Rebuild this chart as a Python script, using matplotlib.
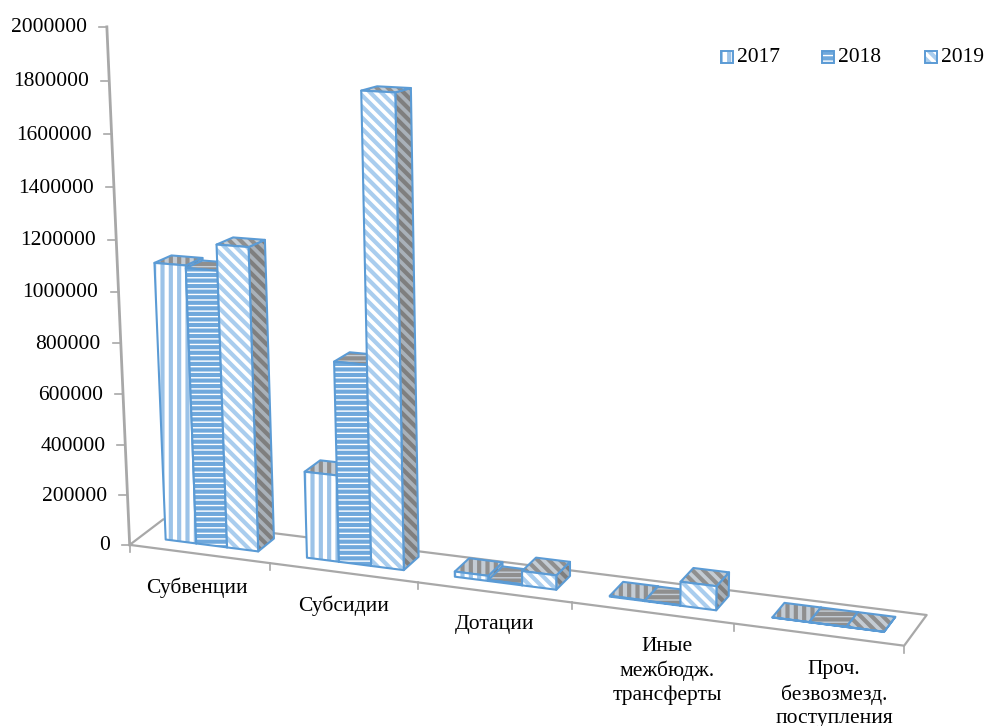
import numpy as np
import matplotlib
matplotlib.use("Agg")
import matplotlib.pyplot as plt
from matplotlib.patches import Polygon, Rectangle

# data
categories = ["Субвенции", "Субсидии", "Дотации",
              "Иные\nмежбюдж.\nтрансферты", "Проч.\nбезвозмезд.\nпоступления"]
years = ["2017", "2018", "2019"]
values_2017 = [1100000, 340000, 20000, 3000, 500]
values_2018 = [1090000, 780000, 4000, 2000, 500]
values_2019 = [1190000, 1800000, 55000, 90000, 500]
y_ticks = [0, 200000, 400000, 600000, 800000, 1000000,
           1200000, 1400000, 1600000, 1800000, 2000000]
y_max = 2000000

BLUE = "#5b9bd5"
HATCHES = ["||", "---", "\\\\\\"]
HATCH_COLORS = ["#9cc3e8", "#6fa8dc", "#a9cdee"]
GRID = "#a8a8a8"
FONT_SIZE = 15.5

plt.rcParams["font.family"] = ["Liberation Serif", "DejaVu Serif"]
plt.rcParams["hatch.linewidth"] = 3.0

# perspective of the floor: (category pos, depth) -> pixel in the picture
floor_calib = [
    ((0, 0), (130, 543)), ((5, 0), (903, 648)),
    ((0, 1), (163, 522)), ((5, 1), (927, 612)),
    ((1, 0), (270, 562)), ((2, 0), (418, 582)), ((4, 0), (735, 625)),
]
axis_height = 518      # pixels of y_max above the origin
top_flare = 0.045      # upper ticks sit a bit further apart
depth_shrink = 0.02    # things further back come out a little shorter
vanish_x, vanish_y = 590, 11000  # where the uprights meet, far below the chart


def solve_floor(pairs):
    rows = []
    for (a, b), (px, py) in pairs:
        px, py = px / 1000, py / 1000
        rows.append([a, b, 1, 0, 0, 0, -px * a, -px * b, -px])
        rows.append([0, 0, 0, a, b, 1, -py * a, -py * b, -py])
    _, _, vt = np.linalg.svd(np.array(rows, dtype=float))
    return vt[-1].reshape(3, 3)


FLOOR = solve_floor(floor_calib)
W0 = (FLOOR @ np.array([0, 0, 1.0]))[2]


def proj(u, v, val=0):
    p = FLOOR @ np.array([u, v, 1.0])
    x, y = p[0] / p[2] * 1000, p[1] / p[2] * 1000
    share = val / y_max
    h = axis_height * (W0 / p[2]) * share * (1 - top_flare) / (1 - top_flare * share)
    h *= 1 - depth_shrink * v
    return x + (x - vanish_x) / (vanish_y - y) * h, y - h


def face(ax, pts, fc, hatch, hatch_color, z):
    ax.add_patch(Polygon(pts, closed=True, facecolor=fc, edgecolor=hatch_color,
                         hatch=hatch, linewidth=0, zorder=z))
    ax.add_patch(Polygon(pts, closed=True, fill=False, edgecolor=BLUE,
                         linewidth=1.5, joinstyle="round", zorder=z))


def draw_bar(ax, u0, u1, v0, v1, val, s, z):
    side = [proj(u1, v0), proj(u1, v1), proj(u1, v1, val), proj(u1, v0, val)]
    top = [proj(u0, v0, val), proj(u1, v0, val), proj(u1, v1, val), proj(u0, v1, val)]
    front = [proj(u0, v0), proj(u1, v0), proj(u1, v0, val), proj(u0, v0, val)]
    face(ax, side, "#a9b1b9", HATCHES[s], "#7f7f7f", z)
    face(ax, top, "#c4ccd4", HATCHES[s], "#8f8f8f", z)
    face(ax, front, "white", HATCHES[s], HATCH_COLORS[s], z)


fig = plt.figure(figsize=(9.84, 7.26), dpi=100)
ax = fig.add_axes([0, 0, 1, 1])
ax.set_xlim(0, 984)
ax.set_ylim(726, 0)
ax.axis("off")

# floor and vertical axis
floor = [proj(0, 0), proj(5, 0), proj(5, 1), proj(0, 1), proj(0, 0)]
ax.plot(*zip(*floor), color=GRID, lw=1.6, zorder=1)
ax.plot(*zip(proj(0, 0), proj(0, 0, y_max)), color=GRID, lw=2.0, zorder=1)

for t in y_ticks:
    x, y = proj(0, 0, t)
    ax.plot([x - 8, x], [y, y], color=GRID, lw=1.2, zorder=1)
    ax.text(x - 20, y + 1, str(t), ha="right", va="center", fontsize=FONT_SIZE, color="black")

for i in range(6):
    x, y = proj(i, 0)
    ax.plot([x, x], [y, y + 7], color=GRID, lw=1.2, zorder=1)

# bars, left to right so that neighbours cover each other's sides
series = [values_2017, values_2018, values_2019]
group_start, group_end = 0.18, 0.84
v_front, v_back = 0.33, 0.82
width = (group_end - group_start) / len(series)
z = 3
for i in range(len(categories)):
    for s, vals in enumerate(series):
        u0 = i + group_start + s * width
        draw_bar(ax, u0, u0 + width, v_front, v_back, vals[i], s, z)
        z += 1

# category labels
label_shift = [(-2, 34), (0, 33), (0, 33), (15, 34), (16, 36)]
for i, name in enumerate(categories):
    x, y = proj(i + 0.5, 0)
    dx, dy = label_shift[i]
    ax.text(x + dx, y + dy - 10, name, ha="center", va="top", fontsize=FONT_SIZE,
            linespacing=1.3, color="black", zorder=50)

# legend
legend_x = [721, 822, 925]
for s, year in enumerate(years):
    ax.add_patch(Rectangle((legend_x[s], 51), 12, 12, facecolor="white",
                           edgecolor=HATCH_COLORS[s], hatch=HATCHES[s], linewidth=0, zorder=60))
    ax.add_patch(Rectangle((legend_x[s], 51), 12, 12, fill=False, edgecolor=BLUE,
                           linewidth=1.4, zorder=61))
    ax.text(legend_x[s] + 16, 57, year, ha="left", va="center", fontsize=FONT_SIZE, color="black")

fig.savefig("out.png", dpi=100)
